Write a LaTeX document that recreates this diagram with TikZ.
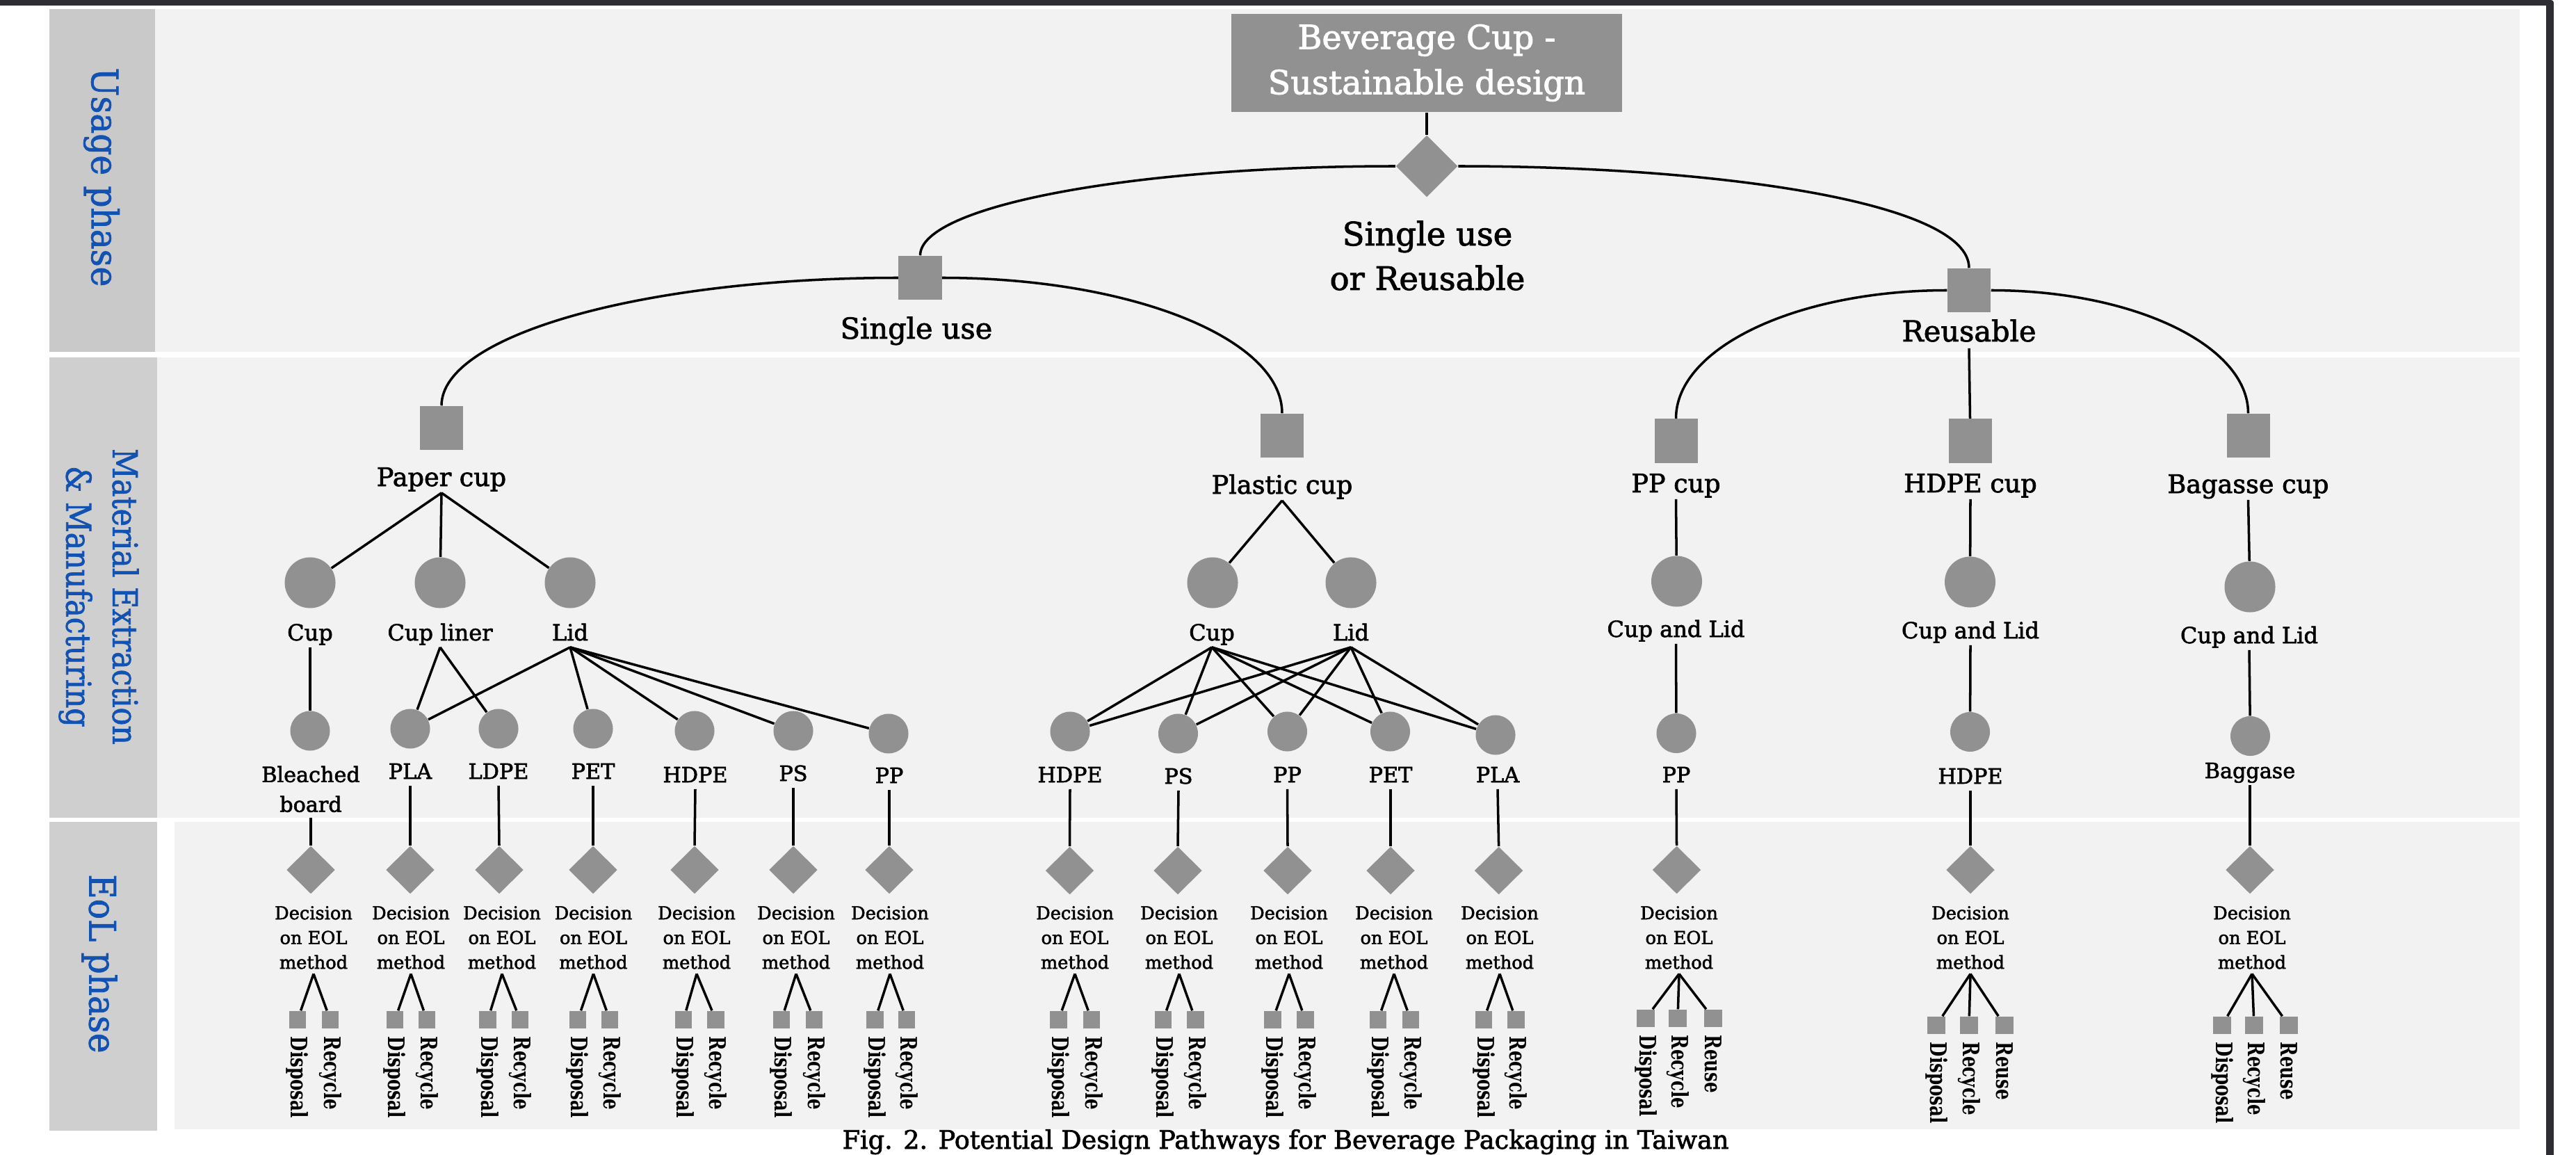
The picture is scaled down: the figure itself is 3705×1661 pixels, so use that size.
\documentclass[tikz,border=0pt]{standalone}
\usepackage{fontspec}
\setmainfont{DejaVu Serif}[FakeBold=2]
\newfontfamily\leaffont[FakeStretch=0.75]{DejaVu Serif}
\newfontfamily\phasefont[FakeStretch=0.92, FakeBold=1.5]{DejaVu Serif}
\newfontfamily\matfont[FakeStretch=0.87, FakeBold=1.5]{DejaVu Serif}
\usetikzlibrary{shapes.geometric}
\definecolor{framec}{HTML}{2E2D33}
\definecolor{bandbg}{HTML}{F2F2F2}
\definecolor{tabone}{HTML}{C9C9C9}
\definecolor{tabtwo}{HTML}{CFCFCF}
\definecolor{nodegray}{HTML}{919191}
\definecolor{phaseblue}{RGB}{18,82,178}
\newcommand\setfs[2]{\fontsize{#1}{#2}\selectfont}
\newcommand\lowstrut{\rule[-0.26em]{0pt}{0.26em}}
\newcommand\decis{Decision\\on EOL\\method\lowstrut}
\begin{document}
\begin{tikzpicture}[x=0.01cm, y=-0.01cm,
  conn/.style={draw=black, line width=1pt},
  bigsq/.style={rectangle, fill=nodegray, inner sep=0pt, minimum width=0.62cm, minimum height=0.63cm},
  smsq/.style={rectangle, fill=nodegray, inner sep=0pt, minimum width=0.245cm, minimum height=0.25cm},
  rsq/.style={rectangle, fill=nodegray, inner sep=0pt, minimum width=0.26cm, minimum height=0.25cm},
  bigc/.style={circle, fill=nodegray, inner sep=0pt, minimum size=0.73cm},
  smc/.style={circle, fill=nodegray, inner sep=0pt, minimum size=0.57cm},
  bigdia/.style={diamond, fill=nodegray, inner sep=0pt, minimum width=0.89cm, minimum height=0.89cm},
  smdia/.style={diamond, fill=nodegray, inner sep=0pt, minimum width=0.70cm, minimum height=0.69cm},
  lblS/.style={inner sep=0pt, anchor=base, text depth=0.26em, font=\setfs{11.8}{14}},
  lblA/.style={inner sep=0pt, anchor=base, text depth=0.26em, font=\setfs{10.4}{12}},
  lblB/.style={inner sep=0pt, anchor=base, text depth=0.26em, font=\setfs{9.1}{11}},
  lblC/.style={inner sep=0pt, anchor=base, text depth=0.26em, font=\setfs{8.6}{12.2}},
  matml/.style={inner sep=0pt, anchor=north, align=center, font=\setfs{8.6}{12.2}},
  dec/.style={inner sep=0pt, anchor=north, align=center, font=\setfs{7.3}{10.1}},
  leaf/.style={rotate=-90, anchor=west, inner xsep=3pt, inner ysep=0pt, font=\leaffont\bfseries\setfs{9.3}{10}},
  phase/.style={rotate=-90, text=phaseblue, inner sep=0pt, align=center}
]
\useasboundingbox (0,0) rectangle (3705,1661);
% backgrounds
\fill[white] (0,0) rectangle (3705,1661);
\fill[tabone] (71,13) rectangle (223,506);
\fill[bandbg] (223,13) rectangle (3624,506);
\fill[tabtwo] (71,514) rectangle (226,1176);
\fill[bandbg] (226,514) rectangle (3624,1176);
\fill[tabtwo] (71,1182) rectangle (226,1626);
\fill[bandbg] (251,1182) rectangle (3624,1624);
\fill[framec] (0,0) rectangle (3669,8);
\fill[framec] (3662,4) rectangle (3673,1661);
\fill[framec] (3669,4) circle (4);

% phase labels
\node[phase, font=\phasefont\setfs{15}{18}] (ph1) at (146,255) {Usage phase};
\node[phase, font=\matfont\setfs{14}{19}] (ph2) at (142,858) {Material Extraction\\\& Manufacturing};
\node[phase, font=\phasefont\setfs{15}{18}] (ph3) at (143,1386) {EoL phase};

% usage phase
\node[rectangle, fill=nodegray, minimum width=5.61cm, minimum height=1.41cm, inner sep=0pt,
      text=white, align=center, font=\setfs{13.5}{18.5}] (title) at (2052,90.5) {Beverage Cup -\\Sustainable design};
\node[bigdia] (d0) at (2052,239) {};
\node[inner sep=0pt, anchor=north, align=center, font=\setfs{13.2}{18.2}] (d0L) at (2053,317) {Single use\\or Reusable};
\node[bigsq] (su) at (1323.5,399.5) {};
\node[lblS] (suL) at (1318,487) {Single use};
\node[bigsq] (re) at (2832,417.5) {};
\node[lblS] (reL) at (2832,491) {Reusable};

% paper cup
\node[bigsq] (pc) at (635,615.5) {};
\node[lblA] (pcL) at (635,699) {Paper cup};
\node[bigc] (pc1) at (446,838) {};
\node[bigc] (pc2) at (633,838) {};
\node[bigc] (pc3) at (820,838) {};
\node[lblB] (pcL1) at (446,921) {Cup};
\node[lblB] (pcL2) at (633,921) {Cup liner};
\node[lblB] (pcL3) at (820,921) {Lid};
\node[smc] (pm1) at (446,1051) {};
\node[smc] (pm2) at (590,1048) {};
\node[smc] (pm3) at (717,1048) {};
\node[smc] (pm4) at (853,1048) {};
\node[smc] (pm5) at (999,1051) {};
\node[smc] (pm6) at (1141,1051) {};
\node[smc] (pm7) at (1278,1055) {};
\node[matml] (pmL1) at (447,1101) {Bleached\\board\lowstrut};
\node[lblC] (pmL2) at (590,1120) {PLA};
\node[lblC] (pmL3) at (717,1120) {LDPE};
\node[lblC] (pmL4) at (853,1120) {PET};
\node[lblC] (pmL5) at (1000,1125) {HDPE};
\node[lblC] (pmL6) at (1141,1123) {PS};
\node[lblC] (pmL7) at (1279,1126) {PP};

% plastic cup
\node[bigsq] (plc) at (1844,626.5) {};
\node[lblA] (plcL) at (1844,710) {Plastic cup};
\node[bigc] (pl1) at (1744,838) {};
\node[bigc] (pl2) at (1943,838) {};
\node[lblB] (plL1) at (1743,921) {Cup};
\node[lblB] (plL2) at (1943,921) {Lid};
\node[smc] (ql1) at (1539,1052) {};
\node[smc] (ql2) at (1694.5,1055) {};
\node[smc] (ql3) at (1851.5,1052) {};
\node[smc] (ql4) at (1999.5,1052) {};
\node[smc] (ql5) at (2151,1057) {};
\node[lblC] (qlL1) at (1539,1125) {HDPE};
\node[lblC] (qlL2) at (1695,1127) {PS};
\node[lblC] (qlL3) at (1851.5,1125) {PP};
\node[lblC] (qlL4) at (2000,1125) {PET};
\node[lblC] (qlL5) at (2154,1125) {PLA};

% reusable cups
\node[bigsq] (ppc) at (2410.5,634) {};
\node[bigsq] (hdc) at (2833.5,634) {};
\node[bigsq] (bgc) at (3233.5,626.5) {};
\node[lblA] (ppcL) at (2410.5,708) {PP cup};
\node[lblA] (hdcL) at (2834,708) {HDPE cup};
\node[lblA] (bgcL) at (3233.5,709) {Bagasse cup};
\node[bigc] (rc1) at (2411.5,836) {};
\node[bigc] (rc2) at (2833.5,837) {};
\node[bigc] (rc3) at (3236,844) {};
\node[lblB] (rcL1) at (2410.5,916) {Cup and Lid};
\node[lblB] (rcL2) at (2834,918) {Cup and Lid};
\node[lblB] (rcL3) at (3235,925) {Cup and Lid};
\node[smc] (rm1) at (2411,1054.5) {};
\node[smc] (rm2) at (2833.5,1052.5) {};
\node[smc] (rm3) at (3236.5,1058.5) {};
\node[lblC] (rmL1) at (2411,1125) {PP};
\node[lblC] (rmL2) at (2834,1127) {HDPE};
\node[lblC] (rmL3) at (3236,1119) {Baggase};

% caption
\node[inner sep=0pt, anchor=base, font=\setfs{10.4}{12}] (cap) at (1849,1652) {Fig. 2. Potential Design Pathways for Beverage Packaging in Taiwan};

% upper connectors
\draw[conn] (title.south) -- (d0.north);
\draw[conn] (d0.west) .. controls +(-378,0) and +(0,-71) .. (su.north);
\draw[conn] (d0.east) .. controls +(370,0) and +(0,-95) .. (re.north);
\draw[conn] (su.west) .. controls +(-363,0) and +(0,-102) .. (pc.north);
\draw[conn] (su.east) .. controls +(270,0) and +(0,-108) .. (plc.north);
\draw[conn] (re.west) .. controls +(-215,0) and +(0,-102) .. (ppc.north);
\draw[conn] (re.east) .. controls +(204,0) and +(0,-98) .. (bgc.north);
\draw[conn] (reL.south) -- (hdc.north);

% paper cup connectors
\foreach \j in {1,2,3} {\draw[conn] (pcL.south) -- (pc\j);}
\draw[conn] (pcL1.south) -- (pm1);
\draw[conn] (pcL2.south) -- (pm2);
\draw[conn] (pcL2.south) -- (pm3);
\foreach \j in {2,4,5,6,7} {\draw[conn] (pcL3.south) -- (pm\j);}

% plastic cup connectors
\draw[conn] (plcL.south) -- (pl1);
\draw[conn] (plcL.south) -- (pl2);
\foreach \j in {1,...,5} {
  \draw[conn] (plL1.south) -- (ql\j);
  \draw[conn] (plL2.south) -- (ql\j);
}

% reusable connectors
\draw[conn] (ppcL.south) -- (rc1);
\draw[conn] (hdcL.south) -- (rc2);
\draw[conn] (bgcL.south) -- (rc3);
\foreach \j in {1,2,3} {\draw[conn] (rcL\j.south) -- (rm\j);}

% EoL - paper cup
\foreach \i/\xd/\xl/\xa/\xb in {1/447/451/428/475, 2/590/591/568/614, 3/718/722/701.5/748, 4/853/853.5/831/877,
                                5/999/1002/983/1029.5, 6/1141/1145/1124/1171, 7/1279/1280/1258.5/1304} {
  \node[smdia] (pe\i) at (\xd,1251) {};
  \node[dec] (ped\i) at (\xl,1302.5) {\decis};
  \node[smsq] (pea\i) at (\xa,1466.5) {};
  \node[smsq] (peb\i) at (\xb,1466.5) {};
  \node[leaf] (pead\i) at (pea\i.south) {Disposal};
  \node[leaf] (pebr\i) at (peb\i.south) {Recycle};
  \draw[conn] (pmL\i.south) -- (pe\i.north);
  \draw[conn] (ped\i.south) -- (pea\i);
  \draw[conn] (ped\i.south) -- (peb\i);
}

% EoL - plastic cup
\foreach \i/\xd/\xl/\xa/\xb in {1/1538.5/1546/1522.5/1570, 2/1694/1696/1673/1719.5, 3/1852/1854/1830.5/1877.5,
                                4/2000/2005/1982/2029, 5/2155.6/2157/2134/2180.5} {
  \node[smdia] (qe\i) at (\xd,1252) {};
  \node[dec] (qed\i) at (\xl,1302.5) {\decis};
  \node[smsq] (qea\i) at (\xa,1466.5) {};
  \node[smsq] (qeb\i) at (\xb,1466.5) {};
  \node[leaf] (qead\i) at (qea\i.south) {Disposal};
  \node[leaf] (qebr\i) at (qeb\i.south) {Recycle};
  \draw[conn] (qlL\i.south) -- (qe\i.north);
  \draw[conn] (qed\i.south) -- (qea\i);
  \draw[conn] (qed\i.south) -- (qeb\i);
}

% EoL - reusable
\foreach \k/\xd/\xl/\ys/\xa/\xb/\xc in {1/2411.5/2415/1464.5/2367/2413/2464, 2/2834/2834/1474.5/2785/2832/2883,
                                        3/3236/3239/1474.5/3196/3242/3292} {
  \node[smdia] (rdia\k) at (\xd,1251) {};
  \node[dec] (rdec\k) at (\xl,1302.5) {\decis};
  \node[rsq] (rsqa\k) at (\xa,\ys) {};
  \node[rsq] (rsqb\k) at (\xb,\ys) {};
  \node[rsq] (rsqc\k) at (\xc,\ys) {};
  \node[leaf] (rlda\k) at (rsqa\k.south) {Disposal};
  \node[leaf] (rldb\k) at (rsqb\k.south) {Recycle};
  \node[leaf] (rldc\k) at (rsqc\k.south) {Reuse};
  \draw[conn] (rmL\k.south) -- (rdia\k.north);
  \draw[conn] (rdec\k.south) -- (rsqa\k);
  \draw[conn] (rdec\k.south) -- (rsqb\k);
  \draw[conn] (rdec\k.south) -- (rsqc\k);
}
\end{tikzpicture}
\end{document}
